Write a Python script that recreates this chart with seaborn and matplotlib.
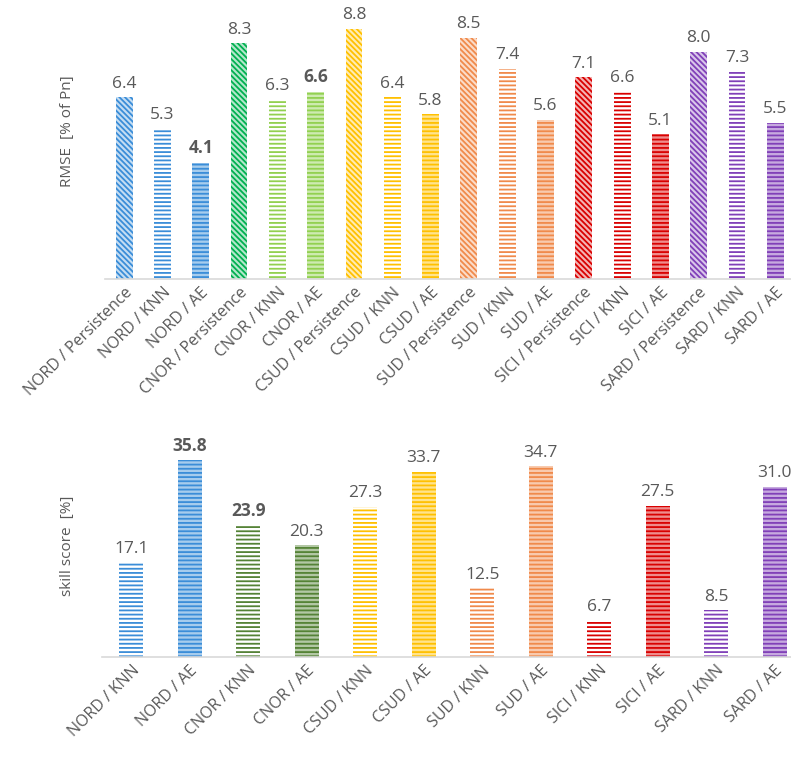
import seaborn as sns
import pandas as pd
import matplotlib.pyplot as plt
import matplotlib.colors as mcolors

# top chart: RMSE per zone / method
rmse_labels = ["NORD / Persistence", "NORD / KNN", "NORD / AE",
               "CNOR / Persistence", "CNOR / KNN", "CNOR / AE",
               "CSUD / Persistence", "CSUD / KNN", "CSUD / AE",
               "SUD / Persistence", "SUD / KNN", "SUD / AE",
               "SICI / Persistence", "SICI / KNN", "SICI / AE",
               "SARD / Persistence", "SARD / KNN", "SARD / AE"]
rmse_values = [6.4, 5.3, 4.1, 8.3, 6.3, 6.6, 8.8, 6.4, 5.8,
               8.5, 7.4, 5.6, 7.1, 6.6, 5.1, 8.0, 7.3, 5.5]
rmse_colors = ["#3A8DD8"] * 3 + ["#00B050"] + ["#92D050"] * 2 + ["#FFC000"] * 3 \
    + ["#F08A4B"] * 3 + ["#D90000"] * 3 + ["#8040B8"] * 3
rmse_bold = ["NORD / AE", "CNOR / AE"]

# bottom chart: skill score
skill_labels = ["NORD / KNN", "NORD / AE", "CNOR / KNN", "CNOR / AE",
                "CSUD / KNN", "CSUD / AE", "SUD / KNN", "SUD / AE",
                "SICI / KNN", "SICI / AE", "SARD / KNN", "SARD / AE"]
skill_values = [17.1, 35.8, 23.9, 20.3, 27.3, 33.7, 12.5, 34.7, 6.7, 27.5, 8.5, 31.0]
skill_colors = ["#3A8DD8"] * 2 + ["#548235"] * 2 + ["#FFC000"] * 2 + ["#F08A4B"] * 2 \
    + ["#D90000"] * 2 + ["#8040B8"] * 2
skill_bold = ["NORD / AE", "CNOR / KNN"]

GREY = "#595959"


def lighten(c, amount):
    r, g, b = mcolors.to_rgb(c)
    return (1 - amount * (1 - r), 1 - amount * (1 - g), 1 - amount * (1 - b))


def plotBars(ax, labels, values, colors, bold, width):
    df = pd.DataFrame({"label": labels, "value": values})
    sns.barplot(data=df, x="label", y="value", hue="label", palette=colors,
                legend=False, width=width, ax=ax, saturation=1)
    for patch, lab, col in zip(ax.patches, labels, colors):
        method = lab.split(" / ")[1]
        patch.set_linewidth(0)
        patch.set_edgecolor(col)
        if method == "Persistence":
            patch.set_facecolor(lighten(col, 0.3))
            patch.set_hatch("\\" * 6)
        elif method == "KNN":
            patch.set_facecolor("white")
            patch.set_hatch("-" * 4)
        else:
            patch.set_facecolor(lighten(col, 0.45))
            patch.set_hatch("-" * 4)
    for i, v in enumerate(values):
        ax.annotate(f"{v:.1f}", (i, v), xytext=(0, 4), textcoords="offset points",
                    ha="center", va="bottom", fontsize=12.5, color=GREY,
                    fontweight="bold" if labels[i] in bold else "normal")
    ax.set_xlabel("")
    ax.set_yticks([])
    for s in ["top", "right", "left"]:
        ax.spines[s].set_visible(False)
    ax.spines["bottom"].set_color("#D9D9D9")
    ax.spines["bottom"].set_linewidth(1.2)
    ax.tick_params(axis="x", length=0, pad=4)
    ax.set_xticks(range(len(labels)))
    ax.set_xticklabels(labels, rotation=45, ha="right", rotation_mode="anchor",
                       fontsize=11.5, color=GREY)


def main():
    sns.set_style("white")
    plt.rcParams["font.family"] = ["Open Sans", "DejaVu Sans"]
    plt.rcParams["hatch.linewidth"] = 1.3

    fig = plt.figure(figsize=(7.91, 7.58), dpi=100)
    ax1 = fig.add_axes([105 / 791, 1 - 279 / 758, 686 / 791, 269 / 758])
    ax2 = fig.add_axes([102 / 791, 1 - 657 / 758, 689 / 791, 227 / 758])

    plotBars(ax1, rmse_labels, rmse_values, rmse_colors, rmse_bold, 0.44)
    ax1.set_xlim(-0.5, 17.41)
    ax1.set_ylim(0, 9.47)
    ax1.set_ylabel("RMSE  [% of Pn]", fontsize=11, color=GREY)
    ax1.yaxis.set_label_coords(-0.044, 0.55)

    plotBars(ax2, skill_labels, skill_values, skill_colors, skill_bold, 0.41)
    ax2.set_xlim(-0.5, 11.28)
    ax2.set_ylim(0, 41.3)
    ax2.set_ylabel("skill score  [%]", fontsize=11, color=GREY)
    ax2.yaxis.set_label_coords(-0.039, 0.49)

    fig.savefig("out.png", dpi=100)


if __name__ == "__main__":
    main()
